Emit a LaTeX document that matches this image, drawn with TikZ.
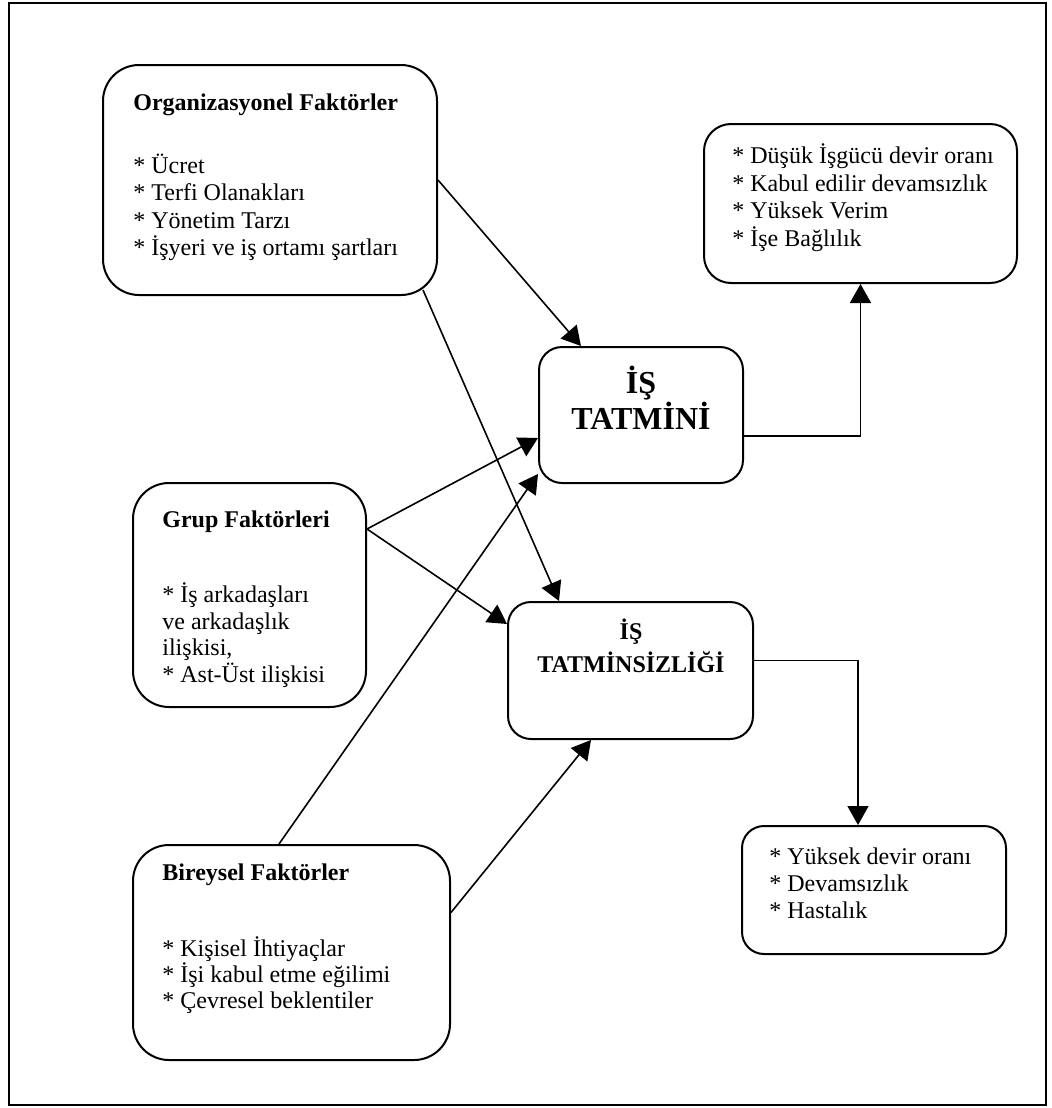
\documentclass[tikz,border=0pt]{standalone}
\usepackage{fontspec}
\setmainfont{Liberation Serif}
\usetikzlibrary{arrows.meta,calc,fit}
\begin{document}
\begin{tikzpicture}[x=0.5pt,y=-0.5pt,
  box/.style={draw, line width=1pt, inner sep=0pt},
  item/.style={anchor=base west, inner sep=0pt, font=\fontsize{12}{14}\selectfont},
  title/.style={anchor=base west, inner sep=0pt, font=\fontsize{12}{14}\selectfont\bfseries},
  bigtitle/.style={anchor=base, inner sep=0pt, font=\fontsize{16}{19}\selectfont\bfseries},
  midtitle/.style={anchor=base, inner sep=0pt, font=\fontsize{12}{14}\selectfont\bfseries},
  conn/.style={line width=0.8pt, -{Triangle[length=9.5pt,width=10.5pt]}},
  link/.style={line width=0.8pt}
]
\useasboundingbox (0,0) rectangle (1052,1108);
% outer frame
\draw[line width=1.4pt] (9,3) rectangle (1046,1105);

% boxes
\node[box, rounded corners=18pt, fit={(103,65) (437,295)}] (org) {};
\node[box, rounded corners=18pt, fit={(133,483) (366,707)}] (grup) {};
\node[box, rounded corners=18pt, fit={(133,845) (450,1060)}] (birey) {};
\node[box, rounded corners=11.5pt, fit={(539,347) (743,483)}] (tatmin) {};
\node[box, rounded corners=11.5pt, fit={(508,602) (753,739)}] (tatsiz) {};
\node[box, rounded corners=13.5pt, fit={(704,124) (1017,283)}] (olumlu) {};
\node[box, rounded corners=11pt, fit={(742,826) (1006,954)}] (olumsuz) {};

% texts
\node[title] (orgT) at (133,110) {Organizasyonel Faktörler};
\node[item] (org1) at (133,173) {* Ücret};
\node[item] (org2) at (133,200) {* Terfi Olanakları};
\node[item] (org3) at (133,228) {* Yönetim Tarzı};
\node[item] (org4) at (133,255) {* İşyeri ve iş ortamı şartları};

\node[title] (grupT) at (162,527) {Grup Faktörleri};
\node[item] (grup1) at (162,602) {* İş arkadaşları};
\node[item] (grup2) at (162,629) {ve arkadaşlık};
\node[item] (grup3) at (162,655) {ilişkisi,};
\node[item] (grup4) at (162,682) {* Ast-Üst ilişkisi};

\node[title] (bireyT) at (162,880) {Bireysel Faktörler};
\node[item] (birey1) at (162,956) {* Kişisel İhtiyaçlar};
\node[item] (birey2) at (162,982) {* İşi kabul etme eğilimi};
\node[item] (birey3) at (162,1008) {* Çevresel beklentiler};

\node[bigtitle] (tatminA) at (641,393) {İŞ};
\node[bigtitle] (tatminB) at (641,429) {TATMİNİ};

\node[midtitle] (tatsizA) at (631,639) {İŞ};
\node[midtitle] (tatsizB) at (631,672) {TATMİNSİZLİĞİ};

\node[item] (olumlu1) at (732,163) {* Düşük İşgücü devir oranı};
\node[item] (olumlu2) at (732,191) {* Kabul edilir devamsızlık};
\node[item] (olumlu3) at (732,218) {* Yüksek Verim};
\node[item] (olumlu4) at (732,246) {* İşe Bağlılık};

\node[item] (olumsuz1) at (769,864) {* Yüksek devir oranı};
\node[item] (olumsuz2) at (769,891) {* Devamsızlık};
\node[item] (olumsuz3) at (769,918) {* Hastalık};

% connectors
\draw[conn] (org.east) -- ($(tatmin.north west)+(43,0)$);
\draw[conn] ($(org.south east)+(-15,-6)$) -- ($(tatsiz.north west)+(52,0)$);
\draw[conn] ($(grup.north east)+(0,47)$) -- ($(tatmin.west)+(0,23)$);
\draw[conn] ($(grup.north east)+(0,47)$) -- ($(tatsiz.north west)+(0,23)$);
\draw[conn] ($(birey.north west)+(147,0)$) -- ($(tatmin.south west)+(0,-10)$);
\draw[conn] ($(birey.east)+(0,-40)$) -- ($(tatsiz.south west)+(84,0)$);
\draw[conn] ($(tatmin.east)+(0,21)$) -| (olumlu.south);
\draw[conn] ($(tatsiz.east)+(0,-10)$) -| ($(olumsuz.north west)+(117,0)$);
\end{tikzpicture}
\end{document}
